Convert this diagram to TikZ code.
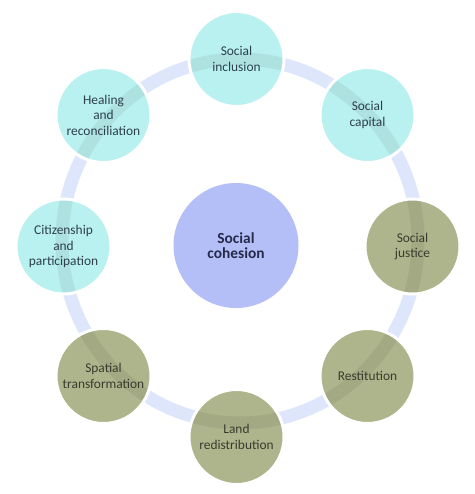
\documentclass[tikz,border=0pt]{standalone}
\usepackage{fontspec}
\setmainfont{Carlito}
\definecolor{cyanfill}{HTML}{B8F1EF}
\definecolor{olivefill}{HTML}{AEB48B}
\definecolor{centerfill}{HTML}{B4BFF8}
\definecolor{bandcol}{HTML}{DDE6FA}
\definecolor{cyantext}{HTML}{2E3F4C}
\definecolor{olivetext}{HTML}{3A3B30}
\definecolor{centertext}{HTML}{262B4A}
\begin{document}
\begin{tikzpicture}[x=1pt,y=-1pt,
  ringband/.style={line width=13pt},
  outer/.style={circle, minimum size=95pt, inner sep=0pt, align=center,
    draw=white, line width=3pt,
    font=\fontsize{13.4}{15.6}\selectfont,
    path picture={\draw[ringband, black, draw opacity=0.06] (rc) ellipse [x radius=178, y radius=182];}},
  cyanc/.style={outer, fill=cyanfill, text=cyantext},
  olivec/.style={outer, fill=olivefill, text=olivetext},
  centerc/.style={circle, minimum size=125pt, inner sep=0pt, align=center,
    fill=centerfill, text=centertext, font=\bfseries\fontsize{15.4}{15.6}\selectfont}
]
\useasboundingbox (0,0) rectangle (474,494);
\fill[white] (0,0) rectangle (474,494);
\coordinate (rc) at (240,241);
\draw[ringband, bandcol] (rc) ellipse [x radius=178, y radius=182];

\node[centerc] (coh) at (236,245.5) {Social\\cohesion};

\node[cyanc] (inc) at (236.5,59) {Social\\inclusion};
\node[cyanc] (cap) at (367.5,115) {Social\\capital};
\node[olivec] (jus) at (412.5,246.5) {Social\\justice};
\node[olivec] (res) at (367.5,376) {Restitution};
\node[olivec] (land) at (236.5,437) {Land\\redistribution};
\node[olivec] (spa) at (103.5,376) {Spatial\\transformation};
\node[cyanc] (cit) at (63.5,246.5) {Citizenship\\and\\participation};
\node[cyanc] (hea) at (103.5,115) {Healing\\and\\reconciliation};
\end{tikzpicture}
\end{document}
